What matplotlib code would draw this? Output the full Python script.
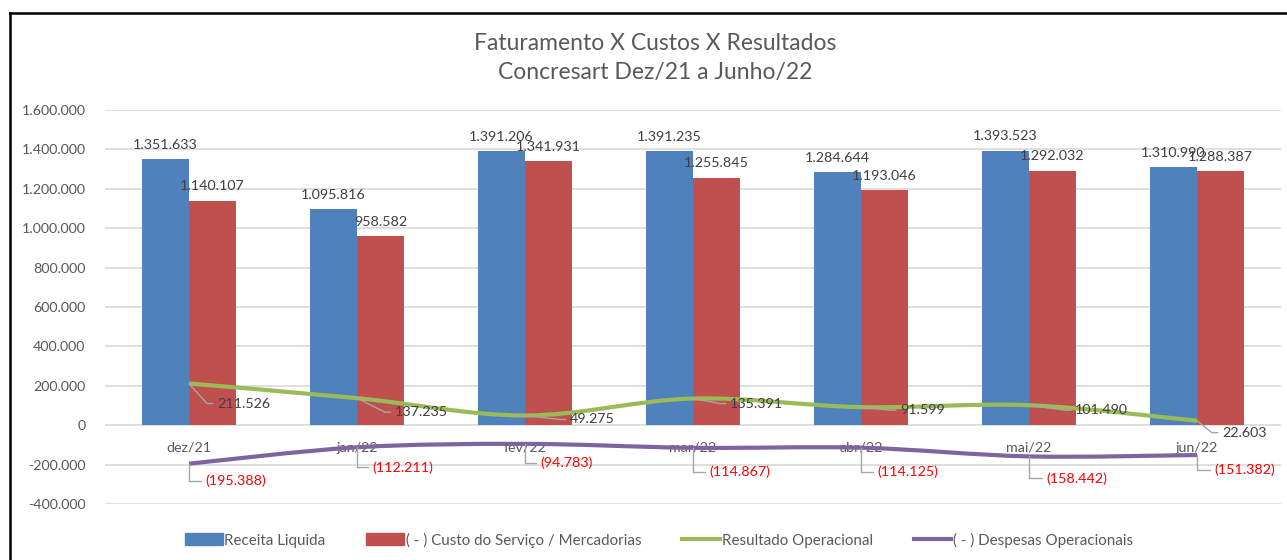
import numpy as np
import matplotlib
matplotlib.use("Agg")
import matplotlib.pyplot as plt
from matplotlib.path import Path
from matplotlib.patches import PathPatch, Patch
from matplotlib.lines import Line2D

# ---------------- data ----------------
categories = ["dez/21", "jan/22", "fev/22", "mar/22", "abr/22", "mai/22", "jun/22"]
receita = [1351633, 1095816, 1391206, 1391235, 1284644, 1393523, 1310990]
custo = [1140107, 958582, 1341931, 1255845, 1193046, 1292032, 1288387]
resultado = [211526, 137235, 49275, 135391, 91599, 101490, 22603]
despesas = [-195388, -112211, -94783, -114867, -114125, -158442, -151382]
yticks = [-400000, -200000, 0, 200000, 400000, 600000, 800000, 1000000,
          1200000, 1400000, 1600000]
series_names = ["Receita Liquida", "( - ) Custo do Serviço / Mercadorias",
                "Resultado Operacional", "( - ) Despesas Operacionais"]
title_lines = ["Faturamento X Custos X Resultados", "Concresart Dez/21 a Junho/22"]

# label offsets (pixels) for line labels – layout only
res_offsets = [(28, -20), (38, -14), (45, -4), (37, -5), (39, -3), (46, -5), (25, -12)]
desp_offsets = [(16, -17), (15, -20), (15, -19), (16, -24), (16, -24), (17, -22), (17, -15)]

BLUE, RED, GREEN, PURPLE = "#4F81BD", "#C0504D", "#9BBB59", "#8064A2"
GRAY_TXT = "#595959"
FONT = "Lato"

plt.rcParams["font.family"] = [FONT, "DejaVu Sans"]

W, H = 1287, 560
fig = plt.figure(figsize=(W / 100, H / 100), dpi=100)
ax = fig.add_axes([105 / W, 1 - 504 / H, (1281 - 105) / W, (504 - 110) / H])

def fmt(v):
    s = f"{abs(v):,.0f}".replace(",", ".")
    return f"({s})" if v < 0 else s

x = np.arange(len(categories))
bw = 0.28
b1 = ax.bar(x - bw / 2, receita, bw, color=BLUE, zorder=2)
b2 = ax.bar(x + bw / 2, custo, bw, color=RED, zorder=2)
ax.bar_label(b1, labels=[fmt(v) for v in receita], padding=6, fontsize=10.3, color="#404040")
ax.bar_label(b2, labels=[fmt(v) for v in custo], padding=6, fontsize=10.3, color="#404040")

def smooth_path(xs, ys):
    pts = np.column_stack([xs, ys]).astype(float)
    n = len(pts)
    verts = [pts[0]]
    codes = [Path.MOVETO]
    for i in range(n - 1):
        p0 = pts[i - 1] if i > 0 else pts[i]
        p1 = pts[i]
        p2 = pts[i + 1]
        p3 = pts[i + 2] if i + 2 < n else pts[i + 1]
        c1 = p1 + (p2 - p0) / 6
        c2 = p2 - (p3 - p1) / 6
        verts += [c1, c2, p2]
        codes += [Path.CURVE4] * 3
    return Path(verts, codes)

for vals, col in [(resultado, GREEN), (despesas, PURPLE)]:
    ax.add_patch(PathPatch(smooth_path(x, vals), fill=False, edgecolor=col,
                           lw=3.0, zorder=3, capstyle="butt"))

# line labels
for xi, v, (dx, dy) in zip(x, resultado, res_offsets):
    ang = np.degrees(np.arctan2(dy, dx - 10))
    ax.annotate(fmt(v), (xi, v), xytext=(dx, dy), textcoords="offset pixels",
                ha="left", va="center", fontsize=10.3, color="#404040", zorder=5,
                arrowprops=dict(arrowstyle="-", color="#A6A6A6", lw=1.0,
                                shrinkA=1, shrinkB=0, relpos=(0, 0.5),
                                connectionstyle=f"angle,angleA=0,angleB={ang},rad=0"))
for xi, v, (dx, dy) in zip(x, despesas, desp_offsets):
    ax.annotate(fmt(v), (xi, v), xytext=(dx, dy), textcoords="offset pixels",
                ha="left", va="center", fontsize=10.3, color="#FF0000", zorder=5,
                arrowprops=dict(arrowstyle="-", color="#A6A6A6", lw=1.0,
                                shrinkA=1, shrinkB=0, relpos=(0, 0.5),
                                connectionstyle="angle,angleA=0,angleB=90,rad=0"))

ax.set_xlim(-0.5, len(categories) - 0.5)
ax.set_ylim(-400000, 1600000)
ax.set_yticks(yticks)
ax.set_yticklabels([fmt(v) if v >= 0 else "-" + fmt(-v) for v in yticks])
ax.set_xticks(x)
ax.set_xticklabels(categories)
ax.spines["bottom"].set_position(("data", 0))
for s in ax.spines.values():
    s.set_visible(False)
ax.tick_params(axis="x", length=0, pad=12, labelsize=10.3, labelcolor=GRAY_TXT)
ax.tick_params(axis="y", length=0, pad=14, labelsize=10.3, labelcolor=GRAY_TXT)
ax.grid(axis="y", color="#D9D9D9", lw=1.2, zorder=0)
ax.set_axisbelow(True)

# titles
fig.text(655 / W, 1 - 43 / H, title_lines[0], ha="center", va="center",
         fontsize=16.5, color=GRAY_TXT)
fig.text(655 / W, 1 - 73 / H, title_lines[1], ha="center", va="center",
         fontsize=16.5, color=GRAY_TXT)

# legend
handles = [Patch(color=BLUE), Patch(color=RED),
           Line2D([], [], color=GREEN, lw=3), Line2D([], [], color=PURPLE, lw=3)]
fig.legend(handles, series_names, loc="center", bbox_to_anchor=(659 / W, 1 - 540 / H),
           ncol=4, frameon=False, fontsize=10.9, handlelength=2.5, handletextpad=0.1,
           columnspacing=2.7, labelcolor=GRAY_TXT, handleheight=0.8)

# outer frame
fig.add_artist(Line2D([10 / W, 10 / W], [0, 1 - 13 / H], color="black", lw=1.8,
                      transform=fig.transFigure))
fig.add_artist(Line2D([10 / W, 1], [1 - 13 / H, 1 - 13 / H], color="black", lw=1.8,
                      transform=fig.transFigure))

fig.savefig("out.png", dpi=100)
